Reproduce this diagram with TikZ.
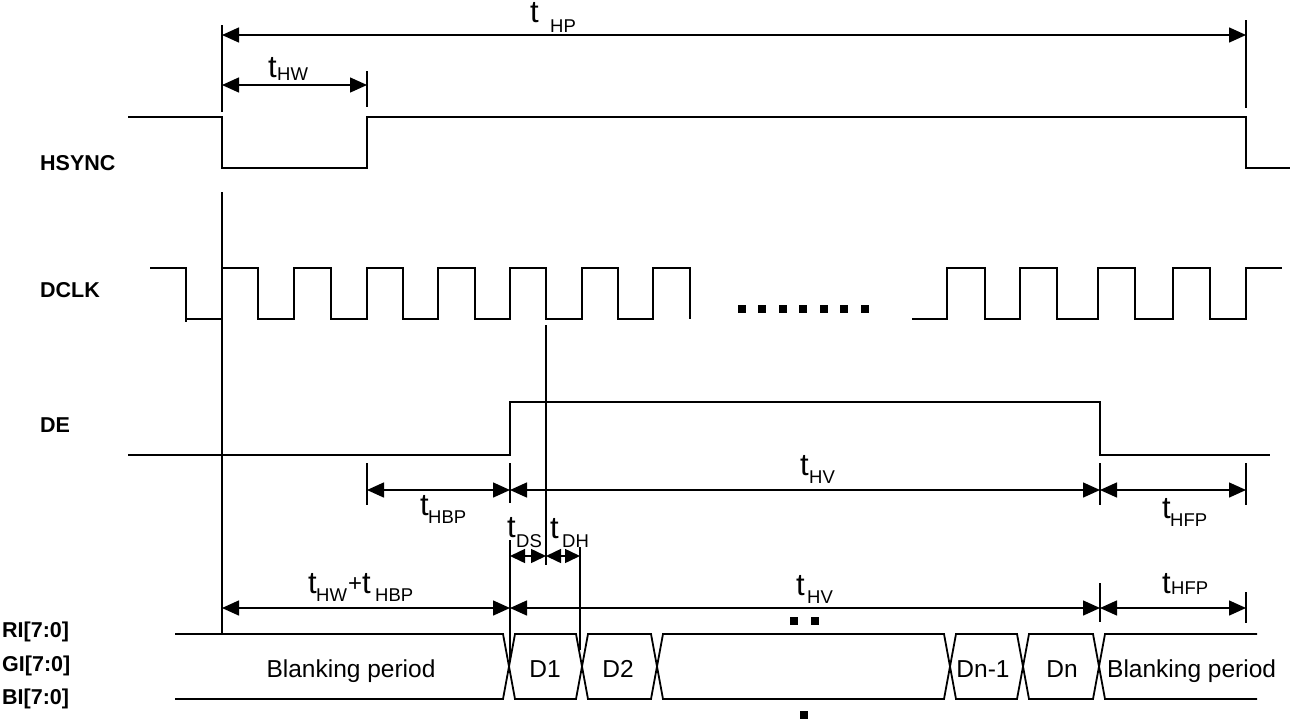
\documentclass[tikz,border=0pt]{standalone}
\usepackage{fontspec}
\setmainfont{Liberation Sans}
\usetikzlibrary{arrows.meta}
\begin{document}
\begin{tikzpicture}[x=1pt,y=-1pt,
  sig/.style={line width=1.8pt, line join=miter},
  tickln/.style={line width=1.5pt},
  dim/.style={line width=1.5pt, {Triangle[length=17pt,width=15pt]}-{Triangle[length=17pt,width=15pt]}},
  dimshort/.style={line width=1.5pt, {Triangle[length=15pt,width=14pt]}-{Triangle[length=15pt,width=14pt]}, shorten <=0pt, shorten >=0pt},
  tt/.style={inner sep=0pt, anchor=base west, font=\fontsize{31}{31}\selectfont},
  sub/.style={inner sep=0pt, anchor=base west, font=\fontsize{18.5}{18.5}\selectfont},
  lab/.style={inner sep=0pt, anchor=base west, font=\bfseries\fontsize{21.5}{22}\selectfont},
  bustxt/.style={inner sep=0pt, anchor=base, font=\fontsize{24.5}{25}\selectfont},
  dot/.style={fill=black}
]
\useasboundingbox (0,0) rectangle (1298,720);

% ---------- signal names ----------
\node[lab] (nHS) at (40,170.7) {HSYNC};
\node[lab] (nCK) at (40,297.7) {DCLK};
\node[lab] (nDE) at (40,432.7) {DE};
\node[lab] (nRI) at (2,637.7) {RI[7:0]};
\node[lab] (nGI) at (2,671.7) {GI[7:0]};
\node[lab] (nBI) at (2,704.7) {BI[7:0]};

% ---------- HSYNC ----------
\draw[sig] (128,117) -- (222,117) -- (222,168) -- (367,168) -- (367,117)
  -- (1246,117) -- (1246,168) -- (1290,168);

% ---------- DCLK ----------
\draw[sig] (150,268) -- (186,268) -- (186,322) (186,319) -- (222,319) -- (222,268)
  -- (258,268) -- (258,319) -- (294,319) -- (294,268)
  -- (331,268) -- (331,319) -- (367,319) -- (367,268)
  -- (403,268) -- (403,319) -- (438,319) -- (438,268)
  -- (475,268) -- (475,319) -- (510,319) -- (510,268)
  -- (546,268) -- (546,319) -- (582,319) -- (582,268)
  -- (618,268) -- (618,319) -- (653,319) -- (653,268)
  -- (690,268) -- (690,319);
\draw[sig] (912,319) -- (947,319) -- (947,268) -- (985,268) -- (985,319)
  -- (1020,319) -- (1020,268) -- (1057,268) -- (1057,319)
  -- (1098,319) -- (1098,268) -- (1135,268) -- (1135,319)
  -- (1173,319) -- (1173,268) -- (1210,268) -- (1210,319)
  -- (1246,319) -- (1246,268) -- (1282,268);
\foreach \x in {742,762,783,803,824,844,865}
  \fill[dot] (\x-4,305) rectangle (\x+4,313);

% ---------- DE ----------
\draw[sig] (128,455) -- (510,455) -- (510,402) -- (1100,402) -- (1100,455) -- (1270,455);

% ---------- reference / tick lines ----------
\draw[tickln] (222,25) -- (222,112);
\draw[tickln] (1246,20) -- (1246,108);
\draw[tickln] (367,71) -- (367,107);
\draw[tickln] (222,192) -- (222,634);
\draw[tickln] (546,325) -- (546,565);
\draw[tickln] (367,463) -- (367,505);
\draw[tickln] (510,463) -- (510,503);
\draw[tickln] (510,540) -- (510,662);
\draw[tickln] (580,547) -- (580,650);
\draw[tickln] (1100,463) -- (1100,505);
\draw[tickln] (1100,583) -- (1100,622);
\draw[tickln] (1246,463) -- (1246,505);
\draw[tickln] (1246,592) -- (1246,623);

% ---------- dimension arrows ----------
\coordinate (a1) at (222,35);  \coordinate (b1) at (1246,35);
\coordinate (a2) at (222,85);  \coordinate (b2) at (367,85);
\coordinate (a3) at (367,490); \coordinate (b3) at (510,490);
\coordinate (a4) at (510,490); \coordinate (b4) at (1100,490);
\coordinate (a5) at (1100,490);\coordinate (b5) at (1246,490);
\coordinate (a6) at (510,556); \coordinate (m6) at (528,556); \coordinate (b6) at (546,556);
\coordinate (a7) at (546,556); \coordinate (m7) at (563,556); \coordinate (b7) at (580,556);
\coordinate (a8) at (222,608); \coordinate (b8) at (510,608);
\coordinate (a9) at (510,608); \coordinate (b9) at (1100,608);
\coordinate (a10) at (1100,608);\coordinate (b10) at (1246,608);
\draw[dim] (a1) -- (b1);
\draw[dim] (a2) -- (b2);
\draw[dim] (a3) -- (b3);
\draw[dim] (a4) -- (b4);
\draw[dim] (a5) -- (b5);
\draw[line width=1.5pt, -{Triangle[length=15pt,width=14pt]}] (m6) -- (a6);
\draw[line width=1.5pt, -{Triangle[length=15pt,width=14pt]}] (m6) -- (b6);
\draw[line width=1.5pt, -{Triangle[length=15pt,width=14pt]}] (m7) -- (a7);
\draw[line width=1.5pt, -{Triangle[length=15pt,width=14pt]}] (m7) -- (b7);
\draw[dim] (a8) -- (b8);
\draw[dim] (a9) -- (b9);
\draw[dim] (a10) -- (b10);

% ---------- timing labels ----------
\node[tt] (l1) at (530,23) {t};   \node[sub] (l1s) at (550,32) {HP};
\node[tt] (l2) at (268,77) {t};   \node[sub] (l2s) at (277,80) {HW};
\node[tt] (l3) at (420,515) {t};  \node[sub] (l3s) at (428,523) {HBP};
\node[tt] (l4) at (800,475) {t};  \node[sub] (l4s) at (809,483) {HV};
\node[tt] (l5) at (1162,518) {t}; \node[sub] (l5s) at (1170,526) {HFP};
\node[tt] (l6) at (507,537) {t};  \node[sub] (l6s) at (516,547) {DS};
\node[tt] (l7) at (550,538) {t};  \node[sub] (l7s) at (562,547) {DH};
\node[tt] (l8) at (308,593) {t};  \node[sub] (l8s) at (316,601) {HW};
\node[tt,font=\fontsize{24}{24}\selectfont] (l8p) at (348,591) {+};
\node[tt] (l8t) at (362,593) {t}; \node[sub] (l8u) at (375,601) {HBP};
\node[tt] (l9) at (796,595) {t};  \node[sub] (l9s) at (807,603) {HV};
\node[tt] (l10) at (1162,593) {t};\node[sub] (l10s) at (1171,594) {HFP};
\fill[dot] (790,617) rectangle (798,625);
\fill[dot] (811,617) rectangle (819,625);
\fill[dot] (800,711) rectangle (808,719);

% ---------- data bus ----------
\def\bt{634}\def\bb{699}\def\bm{666.5}\def\hw{6}
\draw[sig] (175,\bt) -- (503,\bt) -- (509,\bm) -- (503,\bb) -- (175,\bb);
\foreach \a/\b in {509/582, 582/657, 657/950, 950/1023, 1023/1099}
  \draw[sig] (\a,\bm) -- (\a+\hw,\bt) -- (\b-\hw,\bt) -- (\b,\bm) -- (\b-\hw,\bb) -- (\a+\hw,\bb) -- cycle;
\draw[sig] (1257,\bt) -- (1105,\bt) -- (1099,\bm) -- (1105,\bb) -- (1257,\bb);

\node[bustxt] (s0) at (351,677) {Blanking period};
\node[bustxt] (s1) at (545,677) {D1};
\node[bustxt] (s2) at (618,677) {D2};
\node[bustxt] (s3) at (983,677) {Dn-1};
\node[bustxt] (s4) at (1062,677) {Dn};
\node[bustxt,anchor=base west] (s5) at (1107,677) {Blanking period};
\end{tikzpicture}
\end{document}
